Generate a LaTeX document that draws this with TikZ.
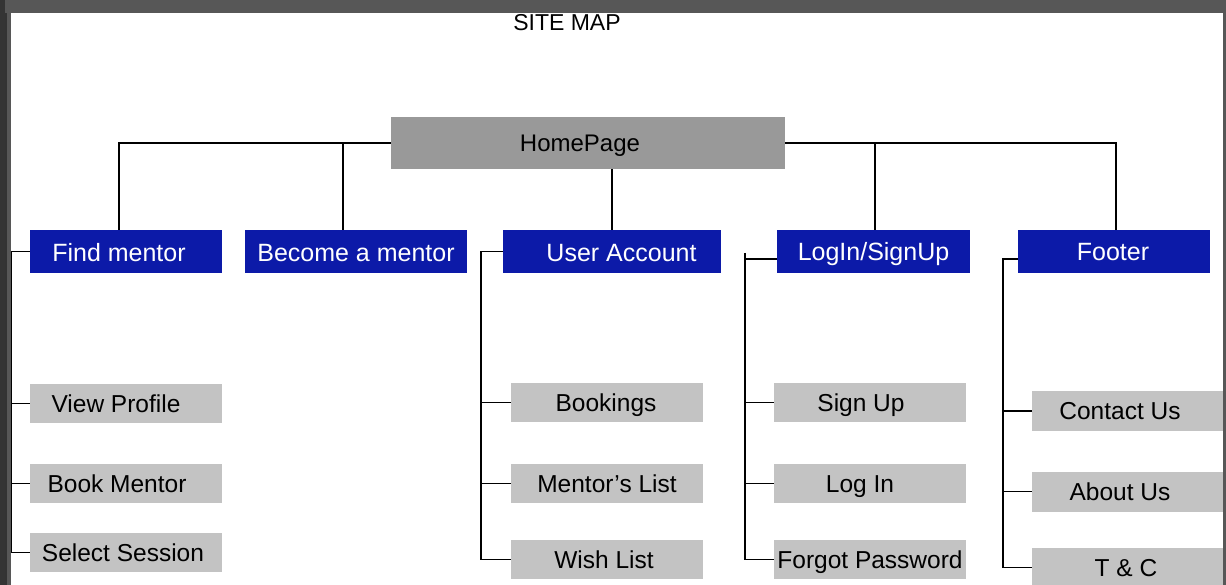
\documentclass[tikz,border=0pt]{standalone}
\usepackage{fontspec}
\setmainfont{Liberation Sans}
\definecolor{frame}{HTML}{575757}
\definecolor{navy}{HTML}{0C1AA8}
\definecolor{hgray}{HTML}{999999}
\definecolor{lgray}{HTML}{C3C3C3}
\begin{document}
\begin{tikzpicture}[x=1pt,y=-1pt,
  capt/.style={text height=17.5pt, text depth=0pt},
  every label/.append style={inner sep=0pt, capt},
  mbox/.style={fill=navy, text=white, minimum height=43pt, inner sep=0pt, capt, font=\fontsize{25}{28}\selectfont},
  wl/.style={text=white, font=\fontsize{25}{28}\selectfont},
  gbox/.style={fill=lgray, text=black, minimum width=192pt, minimum height=39pt, inner sep=0pt, capt, font=\fontsize{24.5}{28}\selectfont},
  gl/.style={font=\fontsize{24.5}{28}\selectfont},
  hbox/.style={fill=hgray, text=black, minimum width=394pt, minimum height=52pt, inner sep=0pt},
  link/.style={draw=black, line width=1.1pt}]
\useasboundingbox (0,0) rectangle (1226,585);
\fill[white] (0,0) rectangle (1226,585);

\node[font=\fontsize{23}{26}\selectfont, inner sep=0pt, text height=16.5pt, text depth=0pt] (title) at (567,22) {SITE MAP};

\node[hbox, label={[xshift=-8pt, font=\fontsize{24}{28}\selectfont]center:HomePage}] (hp) at (588,143) {};

\node[mbox, minimum width=192pt, label={[wl, xshift=-7pt, yshift=-1.5pt]center:Find mentor}] (fm) at (126,251.5) {};
\node[mbox, minimum width=222pt, label={[wl, yshift=-1.5pt]center:Become a mentor}] (bm) at (356,251.5) {};
\node[mbox, minimum width=218pt, label={[wl, xshift=9.5pt, yshift=-1.5pt]center:User Account}] (ua) at (612,251.5) {};
\node[mbox, minimum width=193pt, label={[wl]center:LogIn/SignUp}] (ls) at (873.5,251.5) {};
\node[mbox, minimum width=192pt, label={[wl, xshift=-1pt]center:Footer}] (ft) at (1114,251.5) {};

\node[gbox, label={[gl, xshift=-10pt]center:View Profile}] (vp) at (126,403.5) {};
\node[gbox, label={[gl, xshift=-9pt]center:Book Mentor}] (bk) at (126,483.5) {};
\node[gbox, label={[gl, xshift=-3pt]center:Select Session}] (ss) at (126,552.5) {};

\node[gbox, label={[gl, xshift=-1pt]center:Bookings}] (bo) at (607,402.5) {};
\node[gbox] (ml) at (607,483.5) {Mentor’s List};
\node[gbox, label={[gl, xshift=-3pt]center:Wish List}] (wl) at (607,559.5) {};

\node[gbox, label={[gl, xshift=-9pt]center:Sign Up}] (su) at (870,402.5) {};
\node[gbox, label={[gl, xshift=-10pt]center:Log In}] (li) at (870,483.5) {};
\node[gbox] (fp) at (870,559.5) {Forgot Password};

\node[gbox, minimum width=191pt, minimum height=40pt, label={[gl, xshift=-7.5pt]center:Contact Us}] (cu) at (1127.5,411) {};
\node[gbox, minimum width=191pt, minimum height=40pt, label={[gl, xshift=-7.5pt]center:About Us}] (au) at (1127.5,491.5) {};
\node[gbox, minimum width=191pt, minimum height=40pt, label={[gl, xshift=-1.5pt]center:T \& C}] (tc) at (1127.5,567.5) {};

% top-level connectors
\draw[link] (hp.west) -| ([xshift=-7pt]fm.north);
\draw[link] (hp.west -| bm.north) ++(-13,0) -- ([xshift=-13pt]bm.north);
\draw[link] (ua.north) -- (ua.north |- hp.south);
\draw[link] (hp.east) -| ([xshift=1.5pt]ls.north);
\draw[link] (hp.east) -| ([xshift=2pt]ft.north);

% Find mentor children
\coordinate (fmb) at (11.5,253);
\draw[link] (fm.west) -- (fm.west -| fmb) |- (ss.west);
\draw[link] (vp.west) -- (vp.west -| fmb);
\draw[link] (bk.west) -- (bk.west -| fmb);

% User Account children
\coordinate (uab) at (481,253);
\draw[link] (ua.west) -- (ua.west -| uab) |- (wl.west);
\draw[link] (bo.west) -- (bo.west -| uab);
\draw[link] (ml.west) -- (ml.west -| uab);

% LogIn/SignUp children
\coordinate (lsb) at (745,253);
\draw[link] (lsb) |- (fp.west);
\draw[link] ([yshift=-7.5pt]ls.west) -- ([yshift=-7.5pt]ls.west -| lsb);
\draw[link] (su.west) -- (su.west -| lsb);
\draw[link] (li.west) -- (li.west -| lsb);

% Footer children
\coordinate (ftb) at (1003,259);
\draw[link] ([yshift=-7.5pt]ft.west) -- (ftb) |- (tc.west);
\draw[link] (cu.west) -- (cu.west -| ftb);
\draw[link] (au.west) -- (au.west -| ftb);

% window frame
\fill[frame] (0,0) rectangle (1226,13);
\fill[frame] (0,0) rectangle (11,585);
\fill[black!40!frame] (0,0) rectangle (5,585);
\fill[black!80] (5,13) rectangle (7,585);
\fill[frame] (1223,0) rectangle (1226,585);
\draw[link] (11.5,253) -- (11.5,552.5);
\end{tikzpicture}
\end{document}
